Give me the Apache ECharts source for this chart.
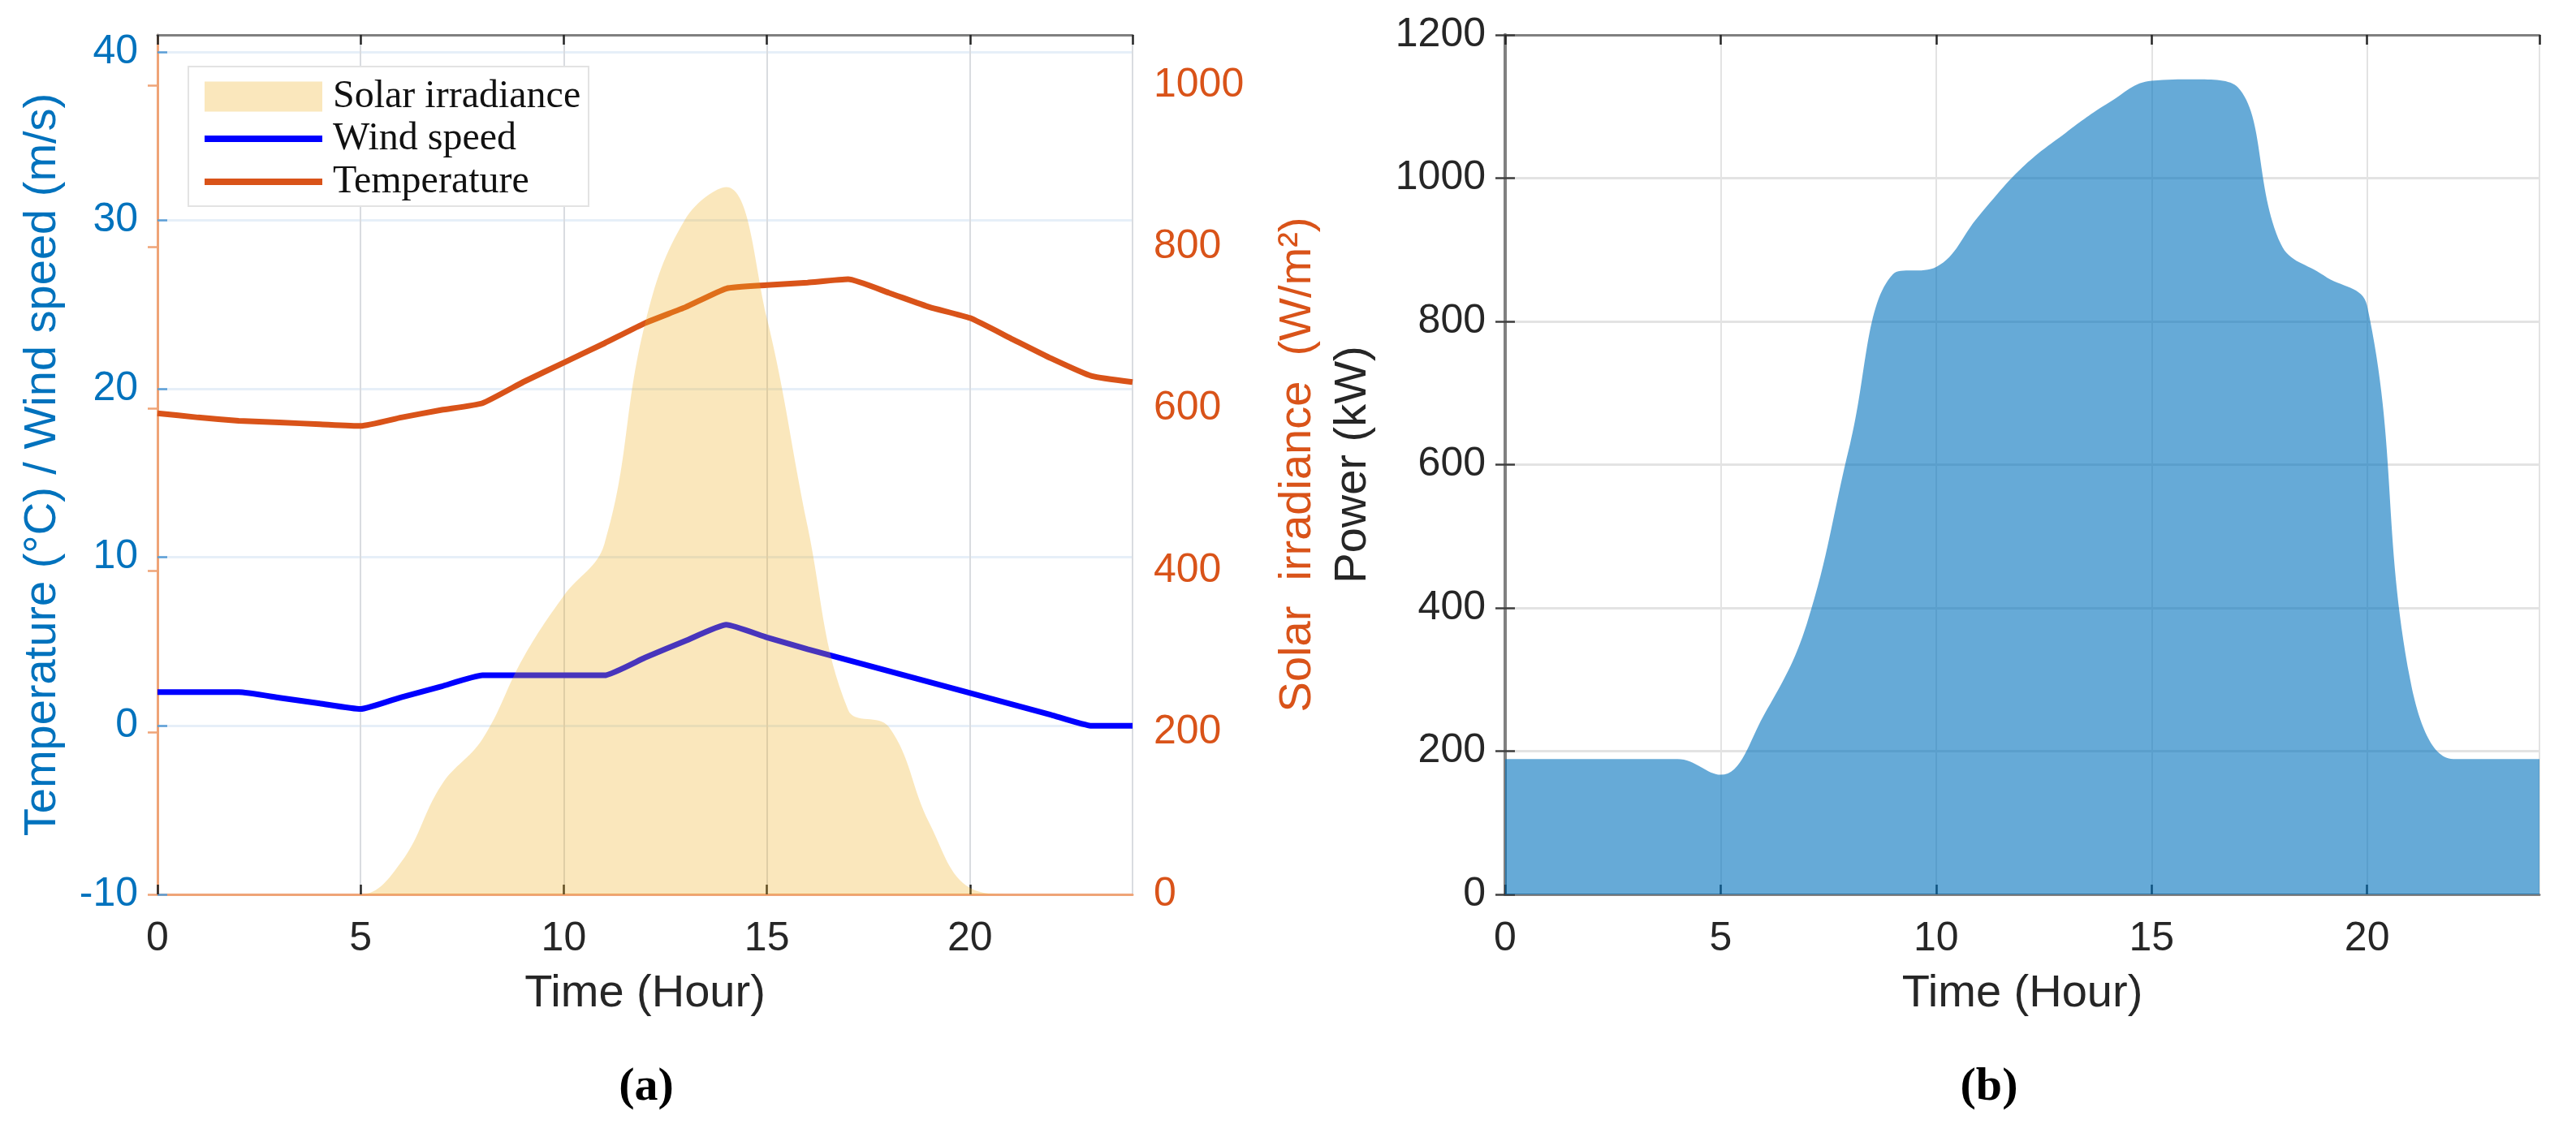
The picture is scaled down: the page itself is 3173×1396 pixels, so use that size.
<!DOCTYPE html>
<html>
<head>
<meta charset="utf-8">
<title>Weather and power profile</title>
<script src="https://cdn.jsdelivr.net/npm/echarts@6.0.0/dist/echarts.min.js"></script>
<style>
  html, body { margin: 0; padding: 0; background: #fff; }
  #chart { width: 3173px; height: 1396px; }
</style>
</head>
<body>
<div id="chart"></div>
<script>
// hours of the day
const hours = [0, 1, 2, 3, 4, 5, 6, 7, 8, 9, 10, 11, 12, 13, 14, 15, 16, 17, 18, 19, 20, 21, 22, 23, 24];
// (a) left axis
const temperature = [18.55, 18.3, 18.1, 18.0, 17.9, 17.8, 18.3, 18.75, 19.15, 20.4, 21.55, 22.7, 23.9, 24.85, 25.95, 26.15, 26.3, 26.5, 25.7, 24.85, 24.2, 23.0, 21.8, 20.75, 20.4];
const windSpeed = [2, 2, 2, 1.67, 1.33, 1, 1.7, 2.35, 3, 3, 3, 3, 4.05, 5.05, 6, 5.25, 4.55, 3.9, 3.25, 2.6, 1.95, 1.3, 0.65, 0, 0];
// (a) right axis
const solarIrradiance = [0, 0, 0, 0, 0, 0, 40, 136, 192, 292, 369, 433, 705, 835, 874, 712, 455, 228, 207, 88, 8, 0, 0, 0, 0];
// (b)
const power = [189, 189, 189, 189, 189, 167, 250, 378, 628, 866, 876, 948, 1015, 1063, 1105, 1136, 1138, 1127, 908, 864, 822, 300, 189, 189, 189];

const pair = (ys) => hours.map((h, i) => [h, ys[i]]);
const plain = (v) => String(v); // no thousands separator

const sansFont = "'Liberation Sans', Arial, Helvetica, sans-serif";
const serifFont = "'Liberation Serif', 'Times New Roman', serif";
const blue = "#0072BD";
const orange = "#D95319";
const dark = "#262626";
const frame = "#808080";

const legendText = { color: "#111", fontSize: 48, fontFamily: serifFont, padding: [0, 0, 0, 8] };

function topAxis(gridIndex, color) {
  return {
    gridIndex: gridIndex, type: "value", min: 0, max: 24, interval: 5, position: "top",
    axisLine: { show: true, onZero: false, lineStyle: { color: color, width: 3 } },
    axisTick: { show: true, inside: true, length: 12, lineStyle: { color: dark, width: 2.5 } },
    axisLabel: { show: false },
    splitLine: { show: false },
  };
}

function timeAxis(gridIndex, lineColor, gridColor) {
  return {
    gridIndex: gridIndex, type: "value", min: 0, max: 24, interval: 5, position: "bottom",
    name: "Time (Hour)", nameLocation: "middle", nameGap: 95,
    nameTextStyle: { color: dark, fontSize: 56, fontFamily: sansFont },
    axisLine: { show: true, onZero: false, lineStyle: { color: lineColor, width: 3 } },
    axisTick: { show: true, inside: true, length: 12, lineStyle: { color: dark, width: 2.5 } },
    axisLabel: { color: dark, fontSize: 50, fontFamily: sansFont, margin: 30, showMaxLabel: false, formatter: plain },
    splitLine: { show: true, lineStyle: { color: gridColor, width: 2 } },
  };
}

const chartInstance = echarts.init(document.getElementById("chart"));
const initOption = {
  animation: false,
  backgroundColor: "#fff",
  grid: [
    { left: 194, top: 43, width: 1201, height: 1059, outerBoundsMode: "none" },
    { left: 1854, top: 43, width: 1274, height: 1059, outerBoundsMode: "none" },
  ],
  xAxis: [
    timeAxis(0, "#EFA477", "#D9DCE0"),
    topAxis(0, frame),
    timeAxis(1, frame, "#E3E3E3"),
    topAxis(1, frame),
  ],
  yAxis: [
    {
      gridIndex: 0, type: "value", min: -10, max: 41, interval: 10, position: "left",
      name: "Temperature (°C) / Wind speed (m/s)", nameLocation: "middle", nameRotate: 90, nameGap: 113,
      nameTextStyle: { color: blue, fontSize: 56, fontFamily: sansFont },
      axisLine: { show: true, lineStyle: { color: "#5C9FD6", width: 3 } },
      axisTick: { show: true, inside: true, length: 12, lineStyle: { color: "#5C9FD6", width: 2.5 } },
      axisLabel: { color: blue, fontSize: 50, fontFamily: sansFont, margin: 24, showMaxLabel: false, formatter: plain },
      splitLine: { show: true, lineStyle: { color: "#E6EFF8", width: 3 } },
    },
    {
      gridIndex: 0, type: "value", min: 0, max: 1062, interval: 200, position: "right",
      name: "Solar  irradiance  (W/m²)", nameLocation: "middle", nameRotate: 90, nameGap: 176,
      nameTextStyle: { color: orange, fontSize: 56, fontFamily: sansFont },
      axisLine: { show: true, lineStyle: { color: "#EFA477", width: 3 } },
      axisTick: { show: true, inside: true, length: 12, lineStyle: { color: "#EFA477", width: 2.5 } },
      axisLabel: { color: orange, fontSize: 50, fontFamily: sansFont, margin: 26, showMaxLabel: false, formatter: plain },
      splitLine: { show: false },
    },
    {
      gridIndex: 1, type: "value", min: 0, max: 1200, interval: 200, position: "left",
      name: "Power (kW)", nameLocation: "middle", nameRotate: 90, nameGap: 159,
      nameTextStyle: { color: dark, fontSize: 56, fontFamily: sansFont },
      axisLine: { show: true, lineStyle: { color: frame, width: 4 } },
      axisTick: { show: true, inside: true, length: 12, lineStyle: { color: "#404040", width: 2.5 } },
      axisLabel: { color: dark, fontSize: 50, fontFamily: sansFont, margin: 24, formatter: plain },
      splitLine: { show: true, lineStyle: { color: "#E3E3E3", width: 3 } },
    },
    {
      gridIndex: 1, type: "value", min: 0, max: 1200, interval: 200, position: "right",
      axisLine: { show: true, lineStyle: { color: frame, width: 4 } },
      axisTick: { show: true, inside: true, length: 12, lineStyle: { color: "#404040", width: 2.5 } },
      axisLabel: { show: false },
      splitLine: { show: false },
    },
  ],
  legend: [
    {
      data: [{ name: "Solar irradiance", icon: "rect", itemStyle: { color: "#FAE7BC" } }],
      left: 247, top: 90, itemWidth: 145, itemHeight: 37,
      itemStyle: { borderWidth: 0 }, textStyle: legendText, selectedMode: false, z: 20,
    },
    {
      data: ["Wind speed", "Temperature"],
      orient: "vertical", icon: "rect",
      left: 247, top: 142, itemWidth: 145, itemHeight: 8, itemGap: 5,
      itemStyle: { borderWidth: 0 }, textStyle: legendText, selectedMode: false, z: 20,
    },
  ],
  graphic: [
    // legend box
    {
      type: "rect", z: 10,
      shape: { x: 232, y: 82, width: 493, height: 172 },
      style: { fill: "#fff", stroke: "#E3E3E3", lineWidth: 2 },
    },
    {
      type: "text", x: 796, y: 1340,
      style: { text: "(a)", fontSize: 58, fontWeight: "bold", fontFamily: serifFont, fill: "#000", align: "center", verticalAlign: "middle" },
    },
    {
      type: "text", x: 2450, y: 1340,
      style: { text: "(b)", fontSize: 58, fontWeight: "bold", fontFamily: serifFont, fill: "#000", align: "center", verticalAlign: "middle" },
    },
  ],
  series: [
    {
      name: "Wind speed", type: "line", xAxisIndex: 0, yAxisIndex: 0,
      data: pair(windSpeed), smooth: 0.15, symbol: "none", showSymbol: false,
      itemStyle: { color: "#0000FF" },
      lineStyle: { color: "#0000FF", width: 7 },
      z: 3,
    },
    {
      name: "Temperature", type: "line", xAxisIndex: 0, yAxisIndex: 0,
      data: pair(temperature), smooth: 0.15, symbol: "none", showSymbol: false,
      itemStyle: { color: orange },
      lineStyle: { color: orange, width: 7 },
      z: 3,
    },
    {
      // drawn over the lines, like the transparent area in the original
      name: "Solar irradiance", type: "line", xAxisIndex: 0, yAxisIndex: 1,
      data: pair(solarIrradiance), smooth: 0.4, symbol: "none", showSymbol: false,
      itemStyle: { color: "#EDB120" },
      lineStyle: { width: 0, opacity: 0 },
      areaStyle: { color: "#EDB120", opacity: 0.3 },
      z: 4,
    },
    {
      name: "Power", type: "line", xAxisIndex: 2, yAxisIndex: 2,
      data: pair(power), smooth: 0.4, symbol: "none", showSymbol: false,
      itemStyle: { color: blue },
      lineStyle: { width: 0, opacity: 0 },
      areaStyle: { color: blue, opacity: 0.6 },
      z: 3,
    },
  ],
};
chartInstance.setOption(initOption);
</script>
</body>
</html>
